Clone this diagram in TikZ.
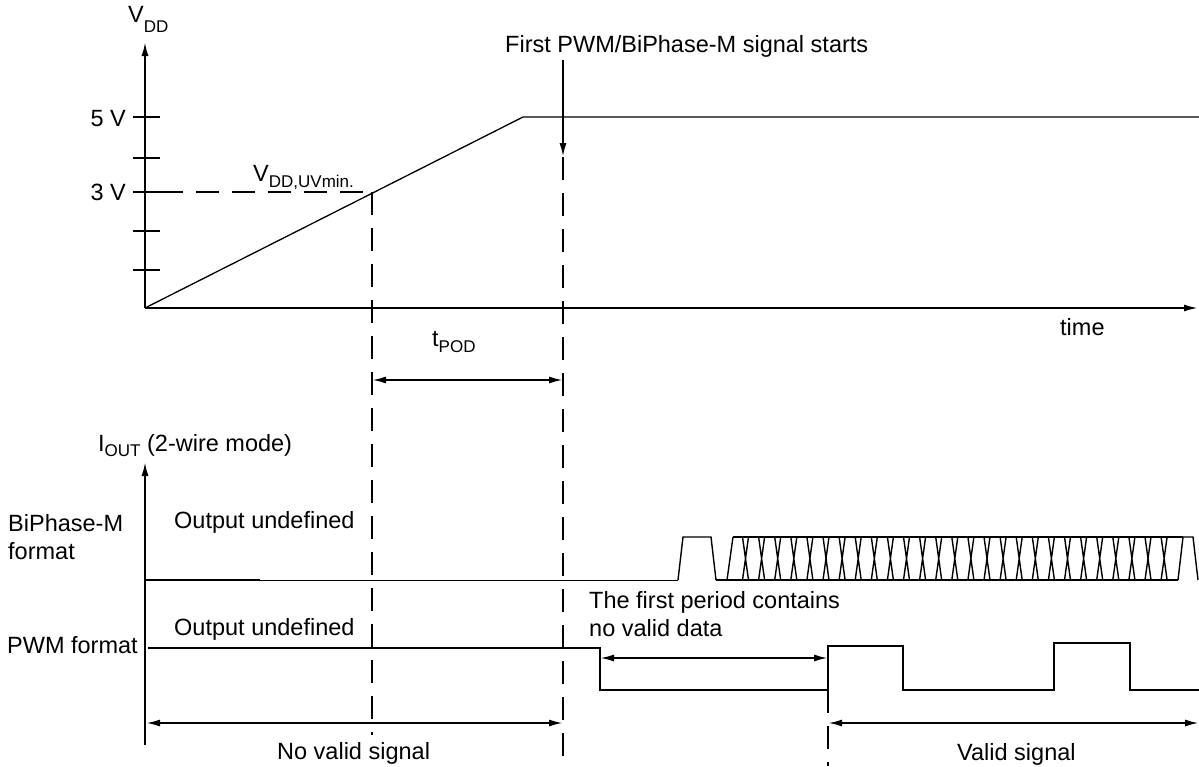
\documentclass[tikz,border=0pt]{standalone}
\usepackage{fontspec}
\setmainfont{Liberation Sans}
\usetikzlibrary{arrows.meta, calc}
\newcommand{\lowsub}[2][6pt]{\raisebox{-#1}{\fontsize{17}{17}\selectfont #2}}
\tikzset{
  lbl/.style={font=\fontsize{23.5}{28}\selectfont, inner sep=0pt},
  axis/.style={-{Latex[length=14pt,width=7pt]}, line width=2pt},
  dim/.style={{Latex[length=14pt,width=7pt]}-{Latex[length=14pt,width=7pt]}, line width=2pt},
  guide/.style={line width=2pt, dash pattern=on 23pt off 13pt},
  wave/.style={line width=2pt},
  xing/.style={line width=1.4pt},
}
\begin{document}
\begin{tikzpicture}[x=1pt, y=-1pt]
\useasboundingbox (0,0) rectangle (1199,766);

% --- Supply voltage ramp ---
\coordinate (o) at (145,308);
\coordinate (vtop) at (145,42);
\coordinate (tend) at (1198,308);
\coordinate (rampend) at (523,117);
\coordinate (uv) at (372,192);
\coordinate (pod) at (563,157);

\draw[axis] (o) -- (vtop);
\draw[axis] (o) -- (tend);
\foreach \y in {117,158,192,231,270}
  \draw[line width=2pt] (133,\y) -- (160,\y);
\draw[line width=1.3pt] (o) -- (rampend) -- (1199,117);

\node[lbl, anchor=base west] (vdd) at (128,22) {V\lowsub[10pt]{DD}};
\node[lbl, anchor=base east] (v5) at (126,126) {5 V};
\node[lbl, anchor=base east] (v3) at (126,200) {3 V};
\node[lbl, anchor=base west] (uvlbl) at (253,181) {V\lowsub{DD,UVmin.}};
\node[lbl, anchor=base west] (time) at (1060,335) {time};

\draw[guide] (160,192) -- (uv);
\draw[guide] (uv) -- (372,735);

% --- First signal marker ---
\node[lbl, anchor=base west] (start) at (505,52) {First PWM/BiPhase-M signal starts};
\draw[axis] (563,60) -- (pod);
\draw[guide] (pod) -- (563,766);

\node[lbl, anchor=base west] (tpod) at (432,346) {t\lowsub{POD}};
\draw[dim] (372,380) -- (563,380);

% --- Output current ---
\coordinate (io) at (145,745);
\draw[axis] (io) -- (145,462);
\node[lbl, anchor=base west] (iout) at (98,451) {I\lowsub[5pt]{OUT} (2-wire mode)};

\node[lbl, anchor=north west, align=left] (bpfmt) at (8,514.5) {BiPhase-M\\format};
\node[lbl, anchor=base west] (pwmfmt) at (7,653) {PWM format};
\node[lbl, anchor=base west] (undef1) at (174,528) {Output undefined};
\node[lbl, anchor=base west] (undef2) at (174,635) {Output undefined};

% BiPhase-M waveform
\draw[wave] (145,580) -- (260,580);
\draw[line width=1pt] (260,580) -- (678,580);
\draw[xing] (678,580) -- (683,537) -- (711,537) -- (716,580);
\draw[wave] (716,580) -- (1178,580);
\draw[xing] (727,580) -- (733,537);
\draw[wave] (733,537) -- (1183,537);
\foreach \k in {0,...,26} {
  \pgfmathsetmacro{\cx}{745.5+16.1*\k}
  \draw[xing] (\cx-3,580) -- (\cx+3,537) (\cx-3,537) -- (\cx+3,580);
}
\draw[xing] (1178,580) -- (1183,537) -- (1193,537) -- (1198,580);

% PWM waveform
\draw[wave] (148,648) -- (600,648) -- (600,690) -- (828,690) -- (828,646)
  -- (903,646) -- (903,690) -- (1054,690) -- (1054,643) -- (1130,643)
  -- (1130,690) -- (1199,690);

\node[lbl, anchor=north west, align=left] (firstper) at (589,591)
  {The first period contains\\no valid data};
\draw[dim] (600,658) -- (828,658);
\draw[guide] (828,690) -- (828,766);

% --- Validity ranges ---
\draw[dim] (146,723) -- (563,723);
\draw[dim] (828,723) -- (1199,723);
\node[lbl, anchor=base west] (novalid) at (277,759) {No valid signal};
\node[lbl, anchor=base west] (valid) at (957,760) {Valid signal};

\end{tikzpicture}
\end{document}
